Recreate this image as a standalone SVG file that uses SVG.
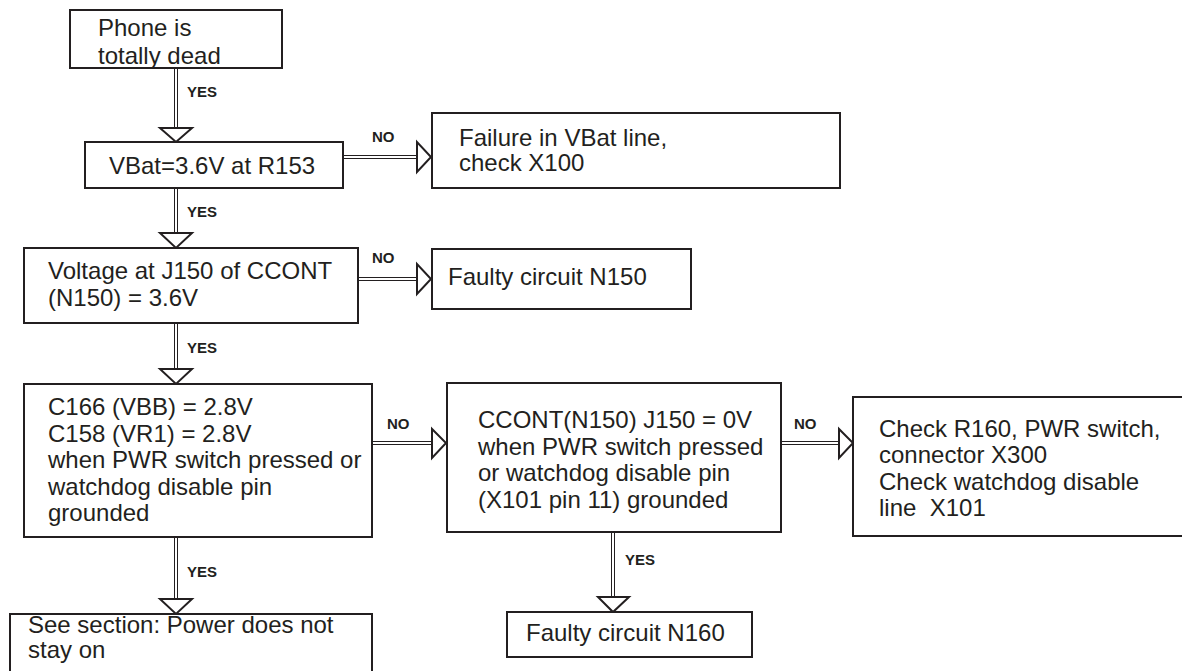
<svg xmlns="http://www.w3.org/2000/svg" width="1182" height="671" viewBox="0 0 1182 671">
<style>
.box{fill:#fff;stroke:#231f20;stroke-width:2}
.t{font-family:"Liberation Sans",Arial,sans-serif;font-size:24px;fill:#231f20}
.lb{font-family:"Liberation Sans",Arial,sans-serif;font-size:15px;font-weight:bold;fill:#231f20}
.ln{stroke:#231f20;stroke-width:1;fill:none}
.ah{fill:#fff;stroke:#231f20;stroke-width:2;stroke-linejoin:miter}
</style>
<rect width="1182" height="671" fill="#fff"/>
<g id="connectors">
  <!-- box1 -> box2 -->
  <path class="ln" d="M174.5,68V128M177.5,68V128"/>
  <polygon class="ah" points="160,128 192,128 176,142"/>
  <text class="lb" x="187" y="97">YES</text>
  <!-- box2 -> failure -->
  <path class="ln" d="M343,155.5H417M343,158.5H417"/>
  <polygon class="ah" points="417,142 417,172 431,157"/>
  <text class="lb" x="372" y="142">NO</text>
  <!-- box2 -> box3 -->
  <path class="ln" d="M174.5,188V233M177.5,188V233"/>
  <polygon class="ah" points="160,233 192,233 176,248"/>
  <text class="lb" x="187" y="217">YES</text>
  <!-- box3 -> N150 -->
  <path class="ln" d="M358,277.5H417M358,280.5H417"/>
  <polygon class="ah" points="417,264 417,294 431,279"/>
  <text class="lb" x="372" y="263">NO</text>
  <!-- box3 -> box4 -->
  <path class="ln" d="M174.5,323V369M177.5,323V369"/>
  <polygon class="ah" points="160,369 192,369 176,384"/>
  <text class="lb" x="187" y="353">YES</text>
  <!-- box4 -> box5 -->
  <path class="ln" d="M372,441.5H432M372,444.5H432"/>
  <polygon class="ah" points="432,429 432,458 446,443"/>
  <text class="lb" x="387" y="429">NO</text>
  <!-- box5 -> box6 -->
  <path class="ln" d="M781,441.5H839M781,444.5H839"/>
  <polygon class="ah" points="839,429 839,458 853,443"/>
  <text class="lb" x="794" y="429">NO</text>
  <!-- box4 -> box7 -->
  <path class="ln" d="M174.5,537V599M177.5,537V599"/>
  <polygon class="ah" points="160,599 192,599 176,614"/>
  <text class="lb" x="187" y="577">YES</text>
  <!-- box5 -> box8 -->
  <path class="ln" d="M611.5,532V597M614.5,532V597"/>
  <polygon class="ah" points="598,597 629,597 613,612"/>
  <text class="lb" x="625" y="565">YES</text>
</g>
<g id="n1">
  <rect class="box" x="70" y="10" width="212" height="58"/>
  <text class="t" x="98" y="36">Phone is</text>
  <text class="t" x="98" y="64">totally dead</text>
</g>
<g id="n2">
  <rect class="box" x="85" y="142" width="258" height="46"/>
  <text class="t" x="109" y="174">VBat=3.6V at R153</text>
</g>
<g id="n3">
  <rect class="box" x="432" y="113" width="408" height="75"/>
  <text class="t" x="459" y="146">Failure in VBat line,</text>
  <text class="t" x="459" y="171">check X100</text>
</g>
<g id="n4">
  <rect class="box" x="24" y="248" width="334" height="75"/>
  <text class="t" x="48" y="279">Voltage at J150 of CCONT</text>
  <text class="t" x="48" y="306">(N150) = 3.6V</text>
</g>
<g id="n5">
  <rect class="box" x="432" y="249" width="259" height="60"/>
  <text class="t" x="448" y="285">Faulty circuit N150</text>
</g>
<g id="n6">
  <rect class="box" x="24" y="384" width="348" height="153"/>
  <text class="t" x="48" y="415">C166 (VBB) = 2.8V</text>
  <text class="t" x="48" y="441.5">C158 (VR1) = 2.8V</text>
  <text class="t" x="48" y="468">when PWR switch pressed or</text>
  <text class="t" x="48" y="494.5">watchdog disable pin</text>
  <text class="t" x="48" y="521">grounded</text>
</g>
<g id="n7">
  <rect class="box" x="447" y="383" width="334" height="149"/>
  <text class="t" x="478" y="428">CCONT(N150) J150 = 0V</text>
  <text class="t" x="478" y="454.5">when PWR switch pressed</text>
  <text class="t" x="478" y="481">or watchdog disable pin</text>
  <text class="t" x="478" y="508">(X101 pin 11) grounded</text>
</g>
<g id="n8">
  <rect class="box" x="853" y="397" width="345" height="139"/>
  <text class="t" x="879" y="437">Check R160, PWR switch,</text>
  <text class="t" x="879" y="463">connector X300</text>
  <text class="t" x="879" y="489.5">Check watchdog disable</text>
  <text class="t" x="879" y="516" style="white-space:pre">line  X101</text>
</g>
<g id="n9">
  <rect class="box" x="10" y="614" width="362" height="70"/>
  <text class="t" x="28" y="633">See section: Power does not</text>
  <text class="t" x="28" y="658">stay on</text>
</g>
<g id="n10">
  <rect class="box" x="507" y="612" width="245" height="45"/>
  <text class="t" x="526" y="641">Faulty circuit N160</text>
</g>
</svg>
